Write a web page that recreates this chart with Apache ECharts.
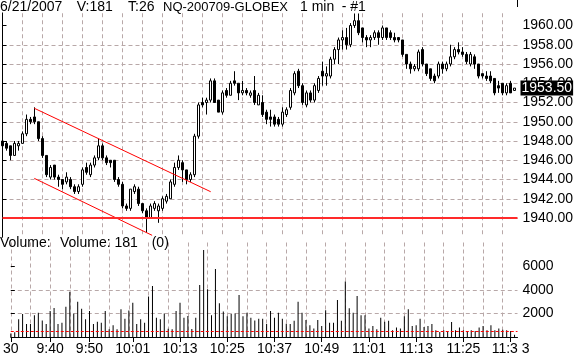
<!DOCTYPE html>
<html><head><meta charset="utf-8">
<script src="https://cdn.jsdelivr.net/npm/echarts@6/dist/echarts.min.js"></script>
<style>html,body{margin:0;padding:0;background:#fff}#c{width:580px;height:357px}</style>
</head><body><div id="c"></div>
<script>
// ---- data (1-min bars, 9:30 .. 11:38) ----
const opens = [1948.00,1947.75,1947.50,1946.50,1947.50,1947.75,1948.75,1950.25,1950.50,1950.00,
1948.25,1946.50,1944.25,1945.50,1944.25,1944.00,1943.75,1944.00,1943.25,1942.75,
1943.50,1945.25,1944.50,1945.50,1946.25,1947.50,1946.25,1946.00,1946.00,1944.00,
1943.50,1941.25,1941.00,1942.75,1943.00,1941.50,1940.75,1940.00,1941.00,1940.75,
1941.00,1941.75,1942.00,1943.50,1945.25,1945.75,1945.00,1944.00,1944.50,1948.50,
1952.00,1952.00,1952.25,1954.25,1952.25,1951.00,1953.25,1952.75,1954.25,1954.00,
1953.00,1953.25,1952.75,1953.25,1951.75,1952.00,1951.00,1950.50,1950.50,1950.25,
1949.75,1950.75,1951.50,1953.00,1955.25,1953.75,1951.75,1953.00,1952.25,1953.25,
1955.25,1954.75,1954.75,1956.50,1957.50,1958.50,1958.75,1958.00,1960.00,1960.50,
1959.75,1958.75,1958.50,1958.75,1959.25,1958.75,1959.75,1959.25,1958.75,1958.75,
1958.50,1957.00,1956.00,1955.50,1955.50,1957.50,1956.00,1955.50,1954.75,1954.75,
1956.00,1955.50,1956.00,1956.75,1957.50,1957.25,1957.00,1956.00,1956.75,1956.00,
1955.00,1954.75,1954.75,1954.50,1953.75,1954.00,1953.00,1954.00,1953.25];
const closes = [1947.50,1947.25,1946.50,1947.75,1947.75,1948.75,1950.25,1950.00,1950.00,1948.25,
1946.50,1944.50,1945.25,1944.25,1944.00,1943.50,1944.25,1943.25,1942.75,1943.25,
1945.00,1944.75,1945.50,1946.25,1947.50,1946.25,1945.75,1945.75,1944.00,1943.50,
1941.25,1941.00,1943.00,1943.25,1941.50,1940.75,1940.00,1941.25,1941.50,1941.25,
1942.00,1942.25,1943.75,1945.25,1946.00,1945.00,1944.00,1944.50,1948.50,1951.75,
1951.75,1952.25,1954.25,1952.00,1951.00,1953.00,1952.75,1954.00,1954.00,1953.00,
1953.25,1953.00,1953.00,1952.00,1952.75,1950.75,1950.25,1950.25,1949.75,1949.75,
1951.00,1951.25,1953.25,1955.00,1953.75,1952.00,1953.00,1952.25,1953.75,1954.50,
1954.75,1955.00,1956.50,1957.50,1958.50,1958.75,1958.00,1960.00,1960.50,1959.25,
1958.75,1958.50,1958.75,1959.25,1958.75,1959.75,1958.75,1958.75,1958.50,1958.50,
1957.00,1956.00,1955.50,1955.75,1957.25,1956.00,1955.00,1954.50,1954.25,1956.00,
1955.50,1956.00,1956.75,1957.50,1957.25,1957.00,1956.25,1957.00,1956.00,1954.75,
1954.75,1954.50,1954.25,1953.00,1953.50,1953.00,1953.75,1953.00,1953.50];
const lows = [1947.25,1947.00,1946.00,1946.50,1947.00,1947.75,1948.50,1949.75,1949.75,1948.00,
1946.25,1944.25,1944.00,1944.00,1943.25,1943.00,1943.50,1943.00,1942.50,1942.50,
1943.25,1944.50,1944.25,1945.25,1946.00,1946.00,1945.50,1945.25,1943.75,1943.25,
1941.00,1940.75,1940.75,1942.50,1941.25,1940.50,1938.50,1940.00,1940.75,1939.50,
1940.75,1941.50,1942.00,1943.25,1945.00,1943.75,1943.50,1943.75,1944.25,1948.25,
1951.50,1950.75,1952.00,1952.00,1951.00,1950.75,1952.50,1952.75,1953.75,1952.25,
1952.75,1952.75,1952.50,1951.75,1951.75,1950.50,1949.75,1949.50,1949.50,1949.50,
1949.50,1950.50,1951.25,1952.75,1953.50,1951.75,1951.50,1952.00,1952.00,1953.00,
1953.75,1953.75,1954.50,1956.00,1956.00,1957.50,1957.50,1957.75,1959.75,1959.00,
1958.25,1957.75,1957.75,1958.50,1958.00,1958.50,1958.50,1958.50,1958.25,1958.25,
1956.75,1955.50,1955.00,1955.25,1955.25,1955.75,1954.75,1954.25,1954.00,1954.50,
1955.00,1955.25,1955.75,1956.50,1957.00,1956.75,1956.00,1955.75,1955.50,1954.50,
1954.50,1954.25,1954.00,1952.75,1953.00,1952.75,1952.75,1953.00,1953.25];
const highs = [1948.25,1948.00,1947.50,1948.00,1948.00,1949.00,1950.75,1950.50,1951.50,1950.00,
1948.50,1946.50,1945.50,1945.50,1944.50,1944.00,1944.75,1944.25,1943.50,1943.50,
1945.25,1945.75,1945.75,1946.50,1948.25,1947.75,1946.50,1946.00,1946.00,1944.25,
1943.75,1941.50,1943.00,1943.50,1943.25,1941.50,1941.00,1941.50,1941.75,1941.50,
1942.25,1942.50,1944.00,1945.75,1946.50,1946.00,1945.00,1944.75,1948.75,1952.00,
1952.50,1952.50,1954.50,1954.50,1952.25,1953.25,1953.50,1954.25,1955.25,1954.00,
1954.25,1953.50,1953.25,1954.75,1953.00,1952.75,1951.25,1951.25,1950.75,1950.50,
1951.50,1951.50,1953.50,1955.25,1955.50,1954.00,1953.25,1953.25,1954.00,1954.75,
1956.25,1955.75,1956.75,1957.75,1958.75,1959.50,1959.75,1960.25,1961.25,1961.25,
1959.75,1959.00,1959.00,1959.50,1959.50,1960.00,1959.75,1959.50,1959.25,1958.75,
1958.50,1957.00,1956.25,1956.00,1957.50,1957.75,1956.00,1955.50,1955.00,1956.25,
1956.25,1956.25,1958.00,1957.75,1958.25,1957.75,1957.25,1957.25,1957.00,1956.00,
1955.00,1955.25,1955.25,1954.50,1954.25,1954.00,1954.00,1954.25,1953.50];
const volumes = [300,400,1500,1950,1100,1100,1850,2050,1400,1100,
2200,2450,1100,1200,2570,3840,1980,2990,2400,1500,
2200,1100,1300,1200,2200,650,1000,650,2350,1550,
2250,2900,1100,1500,1200,3420,4320,1640,1500,1980,
700,650,2200,2900,1640,1780,680,1640,4400,7370,
4040,1850,5760,2850,2150,1750,1950,1980,3560,1750,
2050,1640,1400,1550,1550,1100,2200,1640,2050,1550,
1130,1100,1380,2990,2050,1440,1000,710,1440,930,
2260,1200,1200,3130,1380,4690,2430,2050,3470,1850,
1850,710,930,660,1640,1300,1380,570,800,710,
1750,2350,930,1000,1550,850,930,1100,570,420,
570,420,1270,570,800,570,500,570,500,800,
930,570,1000,570,710,620,570,500,181];
const priceTicks = [1940,1942,1944,1946,1948,1950,1952,1954,1956,1958,1960];
const volumeTicks = [2000,4000,6000];
const timeTickIdx = [0,10,20,31,43,55,67,79,91,103,115,127];
const timeTickLabels = ['30','9:40','9:50','10:01','10:13','10:25','10:37','10:49','11:01','11:13','11:25','11:3 3'];
const upperChannel = [[7.95,1951.40],[52.05,1942.73]];
const lowerChannel = [[7.95,1944.12],[37.4,1938.20]];
const supportLevel = 1940;
const lastPrice = 1953.50;
const volumeLevel = 500;

// ---- chart ----
const FONT = '"Liberation Sans", Arial, sans-serif';
const GRID_COLOR = '#b8a8a8';
const XMAX = 128.75;
const candleData = opens.map((o, i) => [i, o, closes[i], lows[i], highs[i]]);
const volData = volumes.map((v, i) => [i, v]);
const dashed = () => ({show: true, showMaxLine: false, lineStyle: {color: GRID_COLOR, width: 1, type: [4, 3]}});
const lbl = {color: '#000', fontSize: 14, fontFamily: FONT};

const chart = echarts.init(document.getElementById('c'), null, {renderer: 'canvas'});
const txt = (x, y, t, size) => ({type: 'text', x: x, y: y, z: 100,
  style: {text: t, fill: '#000', fontSize: size || 14, fontFamily: FONT, verticalAlign: 'middle'}});
chart.setOption({
  animation: false,
  backgroundColor: '#fff',
  grid: [
    {left: 2.5, right: 62.5, top: 6.25, height: 231},
    {left: 2.5, right: 62.5, top: 242.5, height: 94.5}
  ],
  xAxis: [
    {gridIndex: 0, type: 'value', min: 0, max: XMAX, interval: 5,
     axisLine: {show: false}, axisTick: {show: false}, axisLabel: {show: false}, splitLine: dashed()},
    {gridIndex: 1, type: 'value', min: 0, max: XMAX, interval: 5, position: 'bottom',
     axisLine: {show: true, onZero: false, lineStyle: {color: '#000', width: 1}},
     axisTick: {show: false}, axisLabel: {show: false}, splitLine: dashed()},
    {gridIndex: 1, type: 'value', min: 0, max: XMAX, position: 'bottom',
     axisLine: {show: false, onZero: false},
     axisTick: {show: true, length: 5, customValues: timeTickIdx, lineStyle: {color: '#000'}},
     axisLabel: Object.assign({show: true, customValues: timeTickIdx, margin: 5, hideOverlap: false,
       showMinLabel: true, showMaxLabel: true,
       formatter: v => timeTickLabels[timeTickIdx.indexOf(v)] || ''}, lbl),
     splitLine: {show: false}}
  ],
  yAxis: [
    {gridIndex: 0, type: 'value', position: 'right', min: 1938, max: 1962,
     axisLine: {show: true, lineStyle: {color: '#000', width: 1}},
     axisTick: {show: true, length: 4, customValues: priceTicks, lineStyle: {color: '#000'}},
     axisLabel: Object.assign({customValues: priceTicks, margin: 5, formatter: v => v.toFixed(2)}, lbl),
     splitLine: dashed()},
    {gridIndex: 1, type: 'value', position: 'right', min: 0, max: 8000,
     axisLine: {show: false},
     axisTick: {show: true, length: 4, customValues: volumeTicks, lineStyle: {color: '#000'}},
     axisLabel: Object.assign({customValues: volumeTicks, margin: 5, formatter: v => String(v)}, lbl),
     splitLine: dashed()}
  ],
  series: [
    {type: 'candlestick', xAxisIndex: 0, yAxisIndex: 0, data: candleData,
     encode: {x: 0, y: [1, 2, 3, 4]}, barWidth: 2, clip: false, silent: true,
     itemStyle: {color: '#fff', color0: '#000', borderColor: '#000', borderColor0: '#000', borderWidth: 1},
     markLine: {silent: true, symbol: ['none', 'none'], animation: false,
       data: [
         {yAxis: supportLevel, lineStyle: {color: '#ff2a2a', width: 2, type: 'solid'}, label: {show: false}},
         {yAxis: lastPrice, lineStyle: {color: 'rgba(0,0,0,0)', width: 1}, label: {show: true, position: 'end', distance: 3,
           formatter: lastPrice.toFixed(2), color: '#fff', backgroundColor: '#000',
           fontSize: 14, fontFamily: FONT, padding: [1, 1, 0, 1]}}
       ]}},
    {type: 'line', xAxisIndex: 0, yAxisIndex: 0, data: upperChannel, symbol: 'none', silent: true, clip: false,
     lineStyle: {color: '#ff0000', width: 1}},
    {type: 'line', xAxisIndex: 0, yAxisIndex: 0, data: lowerChannel, symbol: 'none', silent: true, clip: false,
     lineStyle: {color: '#ff0000', width: 1}},
    {type: 'bar', xAxisIndex: 1, yAxisIndex: 1, data: volData, barWidth: 1, silent: true,
     itemStyle: {color: '#000'},
     markLine: {silent: true, symbol: ['none', 'none'], animation: false,
       data: [{yAxis: volumeLevel, lineStyle: {color: '#ff0000', width: 1, type: [3, 2]}, label: {show: false}}]}}
  ],
  graphic: [
    {type: 'rect', shape: {x: 0, y: 0, width: 517, height: 12.5}, style: {fill: '#fff'}, z: 50},
    {type: 'line', shape: {x1: 517.5, y1: 0, x2: 517.5, y2: 7}, style: {stroke: '#000', lineWidth: 1}, z: 60},
    txt(0, 7, '6/21/2007'), txt(76.7, 7, 'V:181'), txt(128, 7, 'T:26'),
    txt(163, 7, 'NQ-200709-GLOBEX', 13), txt(300, 7, '1 min'), txt(341.7, 7, '- #1'),
    txt(0, 243.5, 'Volume:'), txt(60, 243.5, 'Volume: 181'), txt(151.7, 243.5, '(0)')
  ]
});
</script>
</body></html>
